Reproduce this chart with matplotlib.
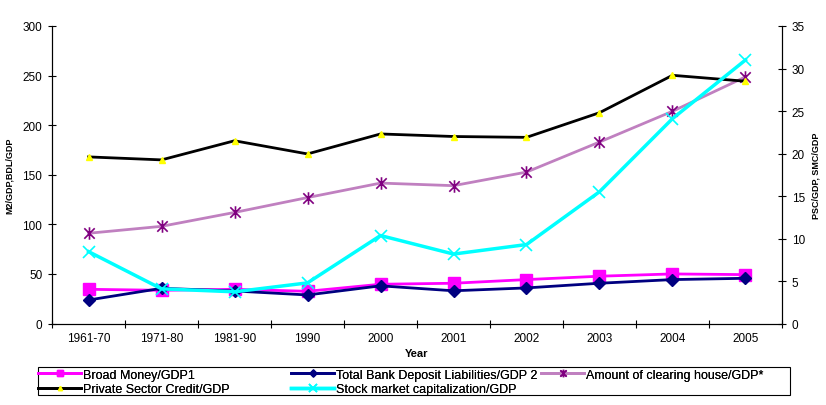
import matplotlib.pyplot as plt
import numpy as np
from matplotlib.path import Path
from matplotlib.patches import Rectangle

plt.rcParams['font.family'] = ['Liberation Sans', 'DejaVu Sans']

# categories and values
years = ['1961-70', '1971-80', '1981-90', '1990', '2000', '2001', '2002', '2003', '2004', '2005']

# left axis (M2/GDP, BDL/GDP)
broad_money = [34.5, 33.5, 34.5, 32.5, 39.6, 40.6, 44.3, 47.7, 50.0, 49.3]
bank_deposits = [23.7, 35.5, 32.8, 28.8, 38.0, 33.0, 35.9, 40.6, 44.3, 45.6]
clearing_house = [91.0, 98.0, 112.0, 127.0, 141.6, 139.0, 152.7, 183.0, 214.0, 248.7]

# right axis (PSC/GDP, SMC/GDP)
private_credit = [19.6, 19.25, 21.5, 19.95, 22.3, 22.0, 21.9, 24.8, 29.2, 28.5]
stock_cap = [8.46, 4.08, 3.73, 4.78, 10.35, 8.17, 9.29, 15.5, 24.1, 31.0]

# excel style star marker: X plus a vertical bar
star = Path([(-1, -1), (1, 1), (-1, 1), (1, -1), (0, -1.2), (0, 1.2)],
            [Path.MOVETO, Path.LINETO, Path.MOVETO, Path.LINETO, Path.MOVETO, Path.LINETO])

W, H = 826, 406
fig = plt.figure(figsize=(W / 100, H / 100), dpi=100)
ax = fig.add_axes([0.063, 0.2007, 0.8837, 0.7328])
ax2 = ax.twinx()

x = np.arange(len(years))

l1, = ax.plot(x, broad_money, color='#ff00ff', lw=2, marker='s', ms=8,
              mfc='#ff00ff', mec='#ff00ff', label='Broad Money/GDP1')
l2, = ax.plot(x, bank_deposits, color='#000080', lw=2, marker='D', ms=6,
              mfc='#000080', mec='#000080', label='Total Bank Deposit Liabilities/GDP 2')
l3, = ax.plot(x, clearing_house, color='#c080c0', lw=2, marker=star, ms=9,
              mec='#800080', mew=1.2, label='Amount of clearing house/GDP*')
l4, = ax2.plot(x, private_credit, color='black', lw=2, marker='^', ms=5,
               mfc='#ffff00', mec='#ffff00', label='Private Sector Credit/GDP')
l5, = ax2.plot(x, stock_cap, color='#00ffff', lw=2.5, marker='x', ms=9,
               mec='#00ffff', mew=1.2, label='Stock market capitalization/GDP')

ax.set_xlim(-0.5, len(years) - 0.5)
ax.set_ylim(0, 300)
ax2.set_ylim(0, 35)
ax.set_yticks(np.arange(0, 301, 50))
ax2.set_yticks(np.arange(0, 36, 5))
ax.set_xticks(x)
ax.set_xticklabels(years)
ax.set_xticks(np.arange(-0.5, len(years), 1), minor=True)
ax.tick_params(axis='x', which='major', length=0, labelsize=8.5, pad=6)
ax.tick_params(axis='x', which='minor', direction='inout', length=6, width=0.8)
ax.tick_params(axis='y', direction='inout', length=6, width=0.8, labelsize=8.5, pad=4)
ax2.tick_params(axis='y', direction='inout', length=6, width=0.8, labelsize=8.5, pad=4)

for a in (ax, ax2):
    a.spines['top'].set_visible(False)
    for s in ('left', 'bottom', 'right'):
        a.spines[s].set_linewidth(0.8)

ax.set_ylabel('M2/GDP,BDL/GDP', fontsize=6.5, fontweight='bold', labelpad=6)
ax2.set_ylabel('PSC/GDP, SMC/GDP', fontsize=6.5, fontweight='bold', rotation=90, labelpad=5)
ax.set_xlabel('Year', fontsize=8, fontweight='bold', labelpad=3)

# legend: excel lays it out in equal-width columns, so one legend per column inside a box
fig.patches.append(Rectangle((38 / W, 1 - 396 / H), (790 - 38) / W, (396 - 368) / H,
                             transform=fig.transFigure, fill=False, edgecolor='black', lw=0.8))
columns = [([l1, l4], 37), ([l2, l5], 290), ([l3], 540)]
for handles, x0 in columns:
    lg = fig.legend(handles=handles, loc='upper left', bbox_to_anchor=(x0 / W, 1 - 368.5 / H),
                    fontsize=9, frameon=False, handlelength=3.45, handletextpad=0.1,
                    borderpad=0.1, labelspacing=0.22, borderaxespad=0, markerscale=0.6)
    fig.add_artist(lg)

fig.savefig('out.png', dpi=100)
